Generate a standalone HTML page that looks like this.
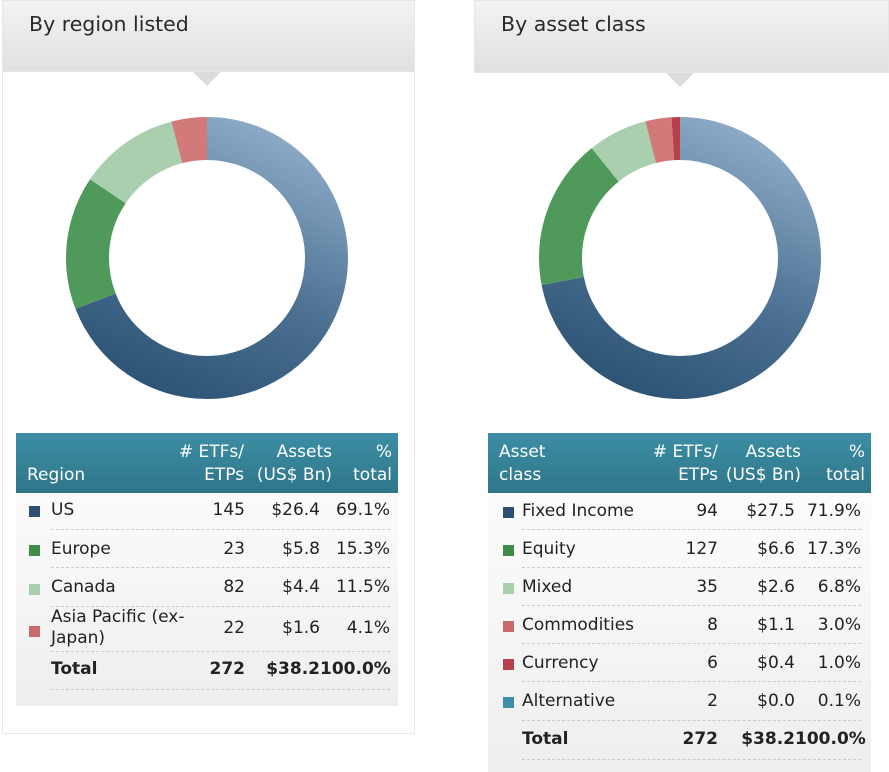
<!DOCTYPE html>
<html><head><style>
body{margin:0;width:889px;height:772px;background:#fff;position:relative;overflow:hidden;font-family:"DejaVu Sans","Liberation Sans",sans-serif;color:#333}
.abs{position:absolute}
.hdr{position:absolute;top:0;height:72px;background:linear-gradient(#f3f3f3,#e0e0e0);border:1px solid #e6e6e6;box-sizing:border-box}
.hdr span{position:absolute;left:26px;top:11px;font-size:20.5px;color:#2a2a2a}
.tri{position:absolute;width:0;height:0;border-left:14px solid transparent;border-right:14px solid transparent;border-top:14px solid #dcdcdc}
.tbl{position:absolute;background:linear-gradient(#fff,#eee)}
.th{position:absolute;left:0;right:0;top:0;height:60px;background:linear-gradient(#3c8ea5,#2f7689);color:#fff;font-size:17px}
.th div{position:absolute;text-align:right;line-height:23px}
.r{position:absolute;font-size:17px;line-height:20px;color:#222}
.num{text-align:right}
.sq{position:absolute;width:11px;height:11px}
.dash{position:absolute;border-top:1px dashed #ccc;height:0}
</style></head><body>
<div class="abs" style="left:2px;top:0;width:413px;height:734px;border:1px solid #e8e8e8;box-sizing:border-box"></div>
<div class="hdr" style="left:2px;width:413px"><span>By region listed</span></div>
<div class="tri" style="left:193px;top:72px"></div>
<div class="hdr" style="left:474px;width:415px;height:73px"><span>By asset class</span></div>
<div class="tri" style="left:666px;top:73px"></div>

<svg class="abs" style="left:0;top:0" width="889" height="430">
<defs>
<linearGradient id="bl" gradientUnits="userSpaceOnUse" x1="340" y1="321" x2="70" y2="201"><stop offset="0" stop-color="#8eacc8"/><stop offset="0.55" stop-color="#4a6f91"/><stop offset="1" stop-color="#2c5274"/></linearGradient>
<linearGradient id="bl2" gradientUnits="userSpaceOnUse" x1="813" y1="321" x2="543" y2="201"><stop offset="0" stop-color="#8eacc8"/><stop offset="0.55" stop-color="#4a6f91"/><stop offset="1" stop-color="#2c5274"/></linearGradient>
</defs>
<g transform="rotate(-90 207 258)" fill="none" stroke-width="43">
<circle cx="207" cy="258" r="119.5" stroke="url(#bl)" stroke-dasharray="518.8 800"/>
<circle cx="207" cy="258" r="119.5" stroke="#4f9a5a" stroke-dasharray="114.9 800" stroke-dashoffset="-518.8"/>
<circle cx="207" cy="258" r="119.5" stroke="#a9cfae" stroke-dasharray="86.3 800" stroke-dashoffset="-633.7"/>
<circle cx="207" cy="258" r="119.5" stroke="#d27a7a" stroke-dasharray="30.8 800" stroke-dashoffset="-720"/>
</g>
<g transform="rotate(-90 680 258)" fill="none" stroke-width="43">
<circle cx="680" cy="258" r="119.5" stroke="url(#bl2)" stroke-dasharray="539.8 800"/>
<circle cx="680" cy="258" r="119.5" stroke="#4f9a5a" stroke-dasharray="129.9 800" stroke-dashoffset="-539.8"/>
<circle cx="680" cy="258" r="119.5" stroke="#a9cfae" stroke-dasharray="51.1 800" stroke-dashoffset="-669.7"/>
<circle cx="680" cy="258" r="119.5" stroke="#d27a7a" stroke-dasharray="22.5 800" stroke-dashoffset="-720.8"/>
<circle cx="680" cy="258" r="119.5" stroke="#b8404c" stroke-dasharray="7.5 800" stroke-dashoffset="-743.3"/>
</g>
</svg>

<!-- left table -->
<div class="tbl" style="left:16px;top:433px;width:382px;height:273px">
<div class="th">
<div style="left:11px;top:31px;text-align:left">Region</div>
<div style="right:154px;top:8px">#&nbsp;ETFs/<br>ETPs</div>
<div style="right:66px;top:8px">Assets<br>(US$ Bn)</div>
<div style="right:6px;top:8px">%<br>total</div>
</div>
</div>
<div class="sq" style="left:29px;top:506px;background:#2c4f72"></div>
<div class="sq" style="left:29px;top:545px;background:#3f8c48"></div>
<div class="sq" style="left:29px;top:584px;background:#a9cfae"></div>
<div class="sq" style="left:29px;top:626px;background:#c96a6a"></div>
<div class="r" style="left:51px;top:500px">US</div>
<div class="r" style="left:51px;top:539px">Europe</div>
<div class="r" style="left:51px;top:577px">Canada</div>
<div class="r" style="left:51px;top:607px;line-height:21px">Asia Pacific (ex-<br>Japan)</div>
<div class="r" style="left:51px;top:659px;font-weight:bold">Total</div>
<div class="r num" style="left:170px;width:75px;top:500px">145</div>
<div class="r num" style="left:170px;width:75px;top:539px">23</div>
<div class="r num" style="left:170px;width:75px;top:577px">82</div>
<div class="r num" style="left:245px;width:75px;top:500px">$26.4</div>
<div class="r num" style="left:245px;width:75px;top:539px">$5.8</div>
<div class="r num" style="left:245px;width:75px;top:577px">$4.4</div>
<div class="r num" style="left:320px;width:70px;top:500px">69.1%</div>
<div class="r num" style="left:320px;width:70px;top:539px">15.3%</div>
<div class="r num" style="left:320px;width:70px;top:577px">11.5%</div>
<div class="r num" style="left:170px;width:75px;top:618px">22</div>
<div class="r num" style="left:245px;width:75px;top:618px">$1.6</div>
<div class="r num" style="left:320px;width:70px;top:618px">4.1%</div>
<div class="r num" style="left:170px;width:75px;top:659px;font-weight:bold">272</div>
<div class="r num" style="left:245px;width:75px;top:659px;font-weight:bold">$38.2</div>
<div class="r num" style="left:320px;width:70px;top:659px;font-weight:bold">100.0%</div>
<div class="dash" style="left:51px;width:339px;top:529px"></div>
<div class="dash" style="left:51px;width:339px;top:567px"></div>
<div class="dash" style="left:51px;width:339px;top:606px"></div>
<div class="dash" style="left:51px;width:339px;top:651px"></div>
<div class="dash" style="left:51px;width:339px;top:689px"></div>

<!-- right table -->
<div class="tbl" style="left:488px;top:433px;width:383px;height:339px">
<div class="th">
<div style="left:11px;top:8px;text-align:left">Asset<br>class</div>
<div style="right:153px;top:8px">#&nbsp;ETFs/<br>ETPs</div>
<div style="right:70px;top:8px">Assets<br>(US$ Bn)</div>
<div style="right:6px;top:8px">%<br>total</div>
</div>
</div>
<div class="sq" style="left:503px;top:507px;background:#2c4f72"></div>
<div class="sq" style="left:503px;top:545px;background:#3f8c48"></div>
<div class="sq" style="left:503px;top:583px;background:#a9cfae"></div>
<div class="sq" style="left:503px;top:621px;background:#c96a6a"></div>
<div class="sq" style="left:503px;top:659px;background:#b8404c"></div>
<div class="sq" style="left:503px;top:697px;background:#3d8fa5"></div>
<div class="r" style="left:522px;top:492px;line-height:38px">Fixed Income<br>Equity<br>Mixed<br>Commodities<br>Currency<br>Alternative<br><b>Total</b></div>
<div class="r num" style="left:640px;width:78px;top:492px;line-height:38px">94<br>127<br>35<br>8<br>6<br>2<br><b>272</b></div>
<div class="r num" style="left:718px;width:77px;top:492px;line-height:38px">$27.5<br>$6.6<br>$2.6<br>$1.1<br>$0.4<br>$0.0<br><b>$38.2</b></div>
<div class="r num" style="left:795px;width:66px;top:492px;line-height:38px">71.9%<br>17.3%<br>6.8%<br>3.0%<br>1.0%<br>0.1%<br><b>100.0%</b></div>
<div class="dash" style="left:522px;width:339px;top:529px"></div>
<div class="dash" style="left:522px;width:339px;top:567px"></div>
<div class="dash" style="left:522px;width:339px;top:605px"></div>
<div class="dash" style="left:522px;width:339px;top:643px"></div>
<div class="dash" style="left:522px;width:339px;top:681px"></div>
<div class="dash" style="left:522px;width:339px;top:720px"></div>
<div class="dash" style="left:522px;width:339px;top:759px"></div>
</body></html>
